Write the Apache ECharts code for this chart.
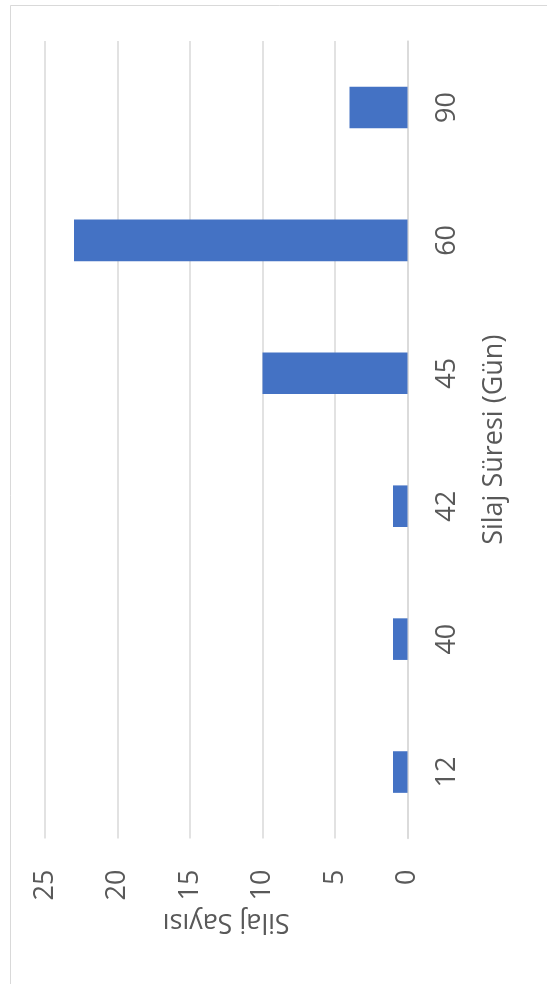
<!DOCTYPE html>
<html>
<head>
<meta charset="utf-8">
<script src="https://cdn.jsdelivr.net/npm/echarts@6/dist/echarts.min.js"></script>
<style>
  html, body { margin: 0; padding: 0; background: #ffffff; }
  #chart { width: 547px; height: 984px; }
</style>
</head>
<body>
<div id="chart"></div>
<script>
const categories = ['12', '40', '42', '45', '60', '90'];
const silajSayisi = [1, 1, 1, 10, 23, 4];
const valueTicks = { min: 0, max: 25, interval: 5 };
const categoryAxisTitle = 'Silaj Süresi (Gün)';
const valueAxisTitle = 'Silaj Sayısı';

const textColor = '#595959';
const fontFamily = '"Open Sans", "Noto Sans", sans-serif';

const chart = echarts.init(document.getElementById('chart'), null, { renderer: 'canvas' });
chart.setOption({
  animation: false,
  backgroundColor: '#ffffff',
  graphic: [{
    type: 'rect',
    shape: { x: 10.5, y: 5.5, width: 700, height: 1100 },
    style: { fill: 'none', stroke: '#d9d9d9', lineWidth: 1 },
    silent: true
  }],
  grid: { left: 45, right: 139.5, top: 41, bottom: 145.5, containLabel: false },
  xAxis: {
    type: 'value',
    inverse: true,
    position: 'bottom',
    min: valueTicks.min,
    max: valueTicks.max,
    interval: valueTicks.interval,
    axisLine: { show: false },
    axisTick: { show: false },
    splitLine: { show: true, lineStyle: { color: '#d9d9d9', width: 1.5 } },
    axisLabel: { rotate: 90, margin: 31, color: textColor, fontSize: 27, fontFamily: fontFamily },
    name: valueAxisTitle,
    nameLocation: 'middle',
    nameRotate: 180,
    nameGap: 69,
    nameTextStyle: { color: textColor, fontSize: 27, fontFamily: fontFamily }
  },
  yAxis: {
    type: 'category',
    position: 'right',
    data: categories,
    axisLine: { show: true, lineStyle: { color: '#d9d9d9', width: 1.5 } },
    axisTick: { show: false },
    splitLine: { show: false },
    axisLabel: { rotate: 90, margin: 26, color: textColor, fontSize: 27, fontFamily: fontFamily },
    name: categoryAxisTitle,
    nameLocation: 'middle',
    nameRotate: 90,
    nameGap: 73,
    nameTextStyle: { color: textColor, fontSize: 27, fontFamily: fontFamily }
  },
  series: [{
    type: 'bar',
    data: silajSayisi,
    barCategoryGap: '68.7%',
    itemStyle: { color: '#4472c4' }
  }]
});
</script>
</body>
</html>
